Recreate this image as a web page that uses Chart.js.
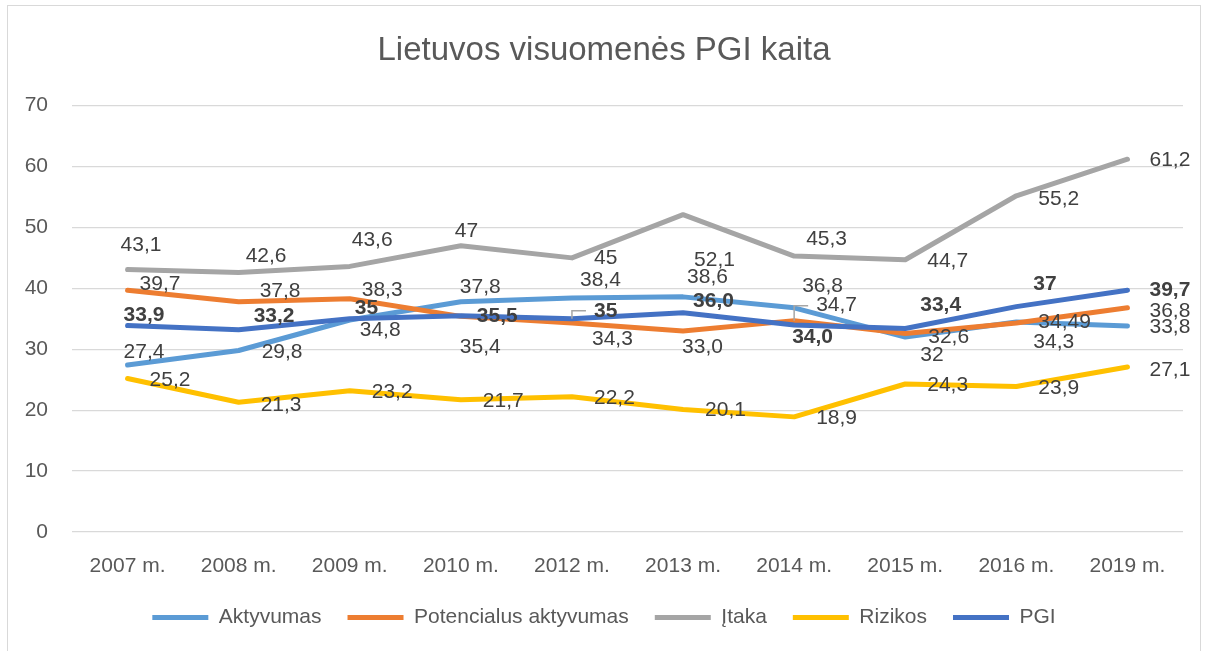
<!DOCTYPE html>
<html lang="lt">
<head>
    <meta charset="UTF-8">
    <title>Lietuvos visuomenės PGI kaita</title>
    <script src="https://cdn.jsdelivr.net/npm/chart.js"></script>
    <style>
        body {
            margin: 0;
            background: #fff;
        }
        #wrap {
            position: relative;
            width: 1206px;
            height: 651px;
        }
        #chart {
            position: absolute;
            left: 0;
            top: 0;
        }
        #frame {
            position: absolute;
            left: 7px;
            top: 5px;
            width: 1192px;
            height: 660px;
            border: 1px solid #d9d9d9;
            pointer-events: none;
        }
    </style>
</head>
<body>
    <div id="wrap">
        <canvas id="chart" width="1206" height="651"></canvas>
        <div id="frame"></div>
    </div>

    <script>
        // duomenys, kaip parodyta paveiksle
        const metai = ['2007 m.', '2008 m.', '2009 m.', '2010 m.', '2012 m.', '2013 m.', '2014 m.', '2015 m.', '2016 m.', '2019 m.'];
        const aktyvumas = ['27,4', '29,8', '34,8', '37,8', '38,4', '38,6', '36,8', '32', '34,49', '33,8'];
        const potencialus = ['39,7', '37,8', '38,3', '35,4', '34,3', '33,0', '34,7', '32,6', '34,3', '36,8'];
        const itaka = ['43,1', '42,6', '43,6', '47', '45', '52,1', '45,3', '44,7', '55,2', '61,2'];
        const rizikos = ['25,2', '21,3', '23,2', '21,7', '22,2', '20,1', '18,9', '24,3', '23,9', '27,1'];
        const pgi = ['33,9', '33,2', '35', '35,5', '35', '36,0', '34,0', '33,4', '37', '39,7'];

        const skaicius = s => parseFloat(s.replace(',', '.'));

        // etikeciu poslinkiai [dx nuo tasko iki kairio krasto, dy]
        const poslinkiai = {
            aktyvumas: [[-4, -13], [23, 2], [10, 10], [-1, -15], [8, -18], [4, -20], [8, -22], [15, 18], [22, 0], [22, 1]],
            potencialus: [[12, -6], [21, -11], [12, -8], [-1, 31], [20, 16], [-1, 16], [22, -15], [23, 4], [17, 19], [22, 3]],
            itaka: [[-7, -24], [7, -16], [2, -26], [-6, -14], [22, 0], [11, 46], [12, -17], [22, 1], [22, 3], [22, 1]],
            rizikos: [[22, 2], [22, 3], [22, 2], [22, 1], [22, 1], [22, 1], [22, 1], [22, 1], [22, 2], [22, 3]],
            pgi: [[-4, -10], [15, -14], [5, -11], [16, 0], [22, -8], [10, -12], [-2, 12], [15, -23], [17, -22], [22, 0]]
        };
        const vedikliai = { potencialus: [6], pgi: [4] };

        const serijos = [
            { key: 'aktyvumas', label: 'Aktyvumas', data: aktyvumas, color: '#5b9bd5', order: 4 },
            { key: 'potencialus', label: 'Potencialus aktyvumas', data: potencialus, color: '#ed7d31', order: 3 },
            { key: 'itaka', label: 'Įtaka', data: itaka, color: '#a5a5a5', order: 2 },
            { key: 'rizikos', label: 'Rizikos', data: rizikos, color: '#ffc000', order: 1 },
            { key: 'pgi', label: 'PGI', data: pgi, color: '#4472c4', order: 0, bold: true }
        ];

        const FONT = "'Liberation Sans', Arial, sans-serif";

        const etiketes = {
            id: 'etiketes',
            afterDatasetsDraw(chart) {
                const ctx = chart.ctx;
                ctx.save();
                ctx.textAlign = 'left';
                ctx.textBaseline = 'middle';
                chart.data.datasets.forEach((ds, di) => {
                    const s = serijos[di];
                    const meta = chart.getDatasetMeta(di);
                    ctx.font = (s.bold ? 'bold ' : '') + '21px ' + FONT;
                    meta.data.forEach((pt, i) => {
                        const [dx, dy] = poslinkiai[s.key][i];
                        const tx = pt.x + dx;
                        const ty = pt.y + dy;
                        if ((vedikliai[s.key] || []).includes(i)) {
                            ctx.strokeStyle = '#a6a6a6';
                            ctx.lineWidth = 1.5;
                            ctx.beginPath();
                            ctx.moveTo(pt.x, pt.y);
                            ctx.lineTo(pt.x, ty);
                            ctx.lineTo(tx - 8, ty);
                            ctx.stroke();
                        }
                        ctx.fillStyle = '#404040';
                        ctx.fillText(s.data[i], tx, ty);
                    });
                });
                ctx.restore();
            }
        };

        new Chart(document.getElementById('chart'), {
            type: 'line',
            data: {
                labels: metai,
                datasets: serijos.map(s => ({
                    label: s.label,
                    data: s.data.map(skaicius),
                    borderColor: s.color,
                    backgroundColor: s.color,
                    borderWidth: 5,
                    borderCapStyle: 'round',
                    borderJoinStyle: 'round',
                    pointRadius: 0,
                    pointHoverRadius: 0,
                    tension: 0,
                    order: s.order
                }))
            },
            options: {
                responsive: false,
                animation: false,
                layout: { padding: { left: 25, right: 23, top: 0, bottom: 13 } },
                scales: {
                    x: {
                        offset: true,
                        grid: { display: false, drawTicks: false },
                        border: { display: false },
                        ticks: { color: '#595959', font: { size: 21, family: FONT }, padding: 22, maxRotation: 0, autoSkip: false },
                        afterFit(scale) { scale.height = 49; }
                    },
                    y: {
                        min: 0,
                        max: 70,
                        grid: { color: '#d9d9d9', lineWidth: 1.2, drawTicks: false },
                        border: { display: false },
                        ticks: { stepSize: 10, color: '#595959', font: { size: 21, family: FONT }, padding: 24 },
                        afterFit(scale) { scale.width = 47; }
                    }
                },
                plugins: {
                    title: {
                        display: true,
                        text: 'Lietuvos visuomenės PGI kaita',
                        color: '#595959',
                        font: { size: 33, family: FONT, weight: 'normal' },
                        padding: { top: 31, bottom: 35 }
                    },
                    legend: {
                        position: 'bottom',
                        labels: {
                            color: '#595959',
                            font: { size: 21, family: FONT },
                            usePointStyle: true,
                            pointStyle: 'line',
                            pointStyleWidth: 56,
                            padding: 26,
                            sort: (a, b) => a.datasetIndex - b.datasetIndex
                        }
                    },
                    tooltip: { enabled: false }
                }
            },
            plugins: [etiketes]
        });
    </script>
</body>
</html>
